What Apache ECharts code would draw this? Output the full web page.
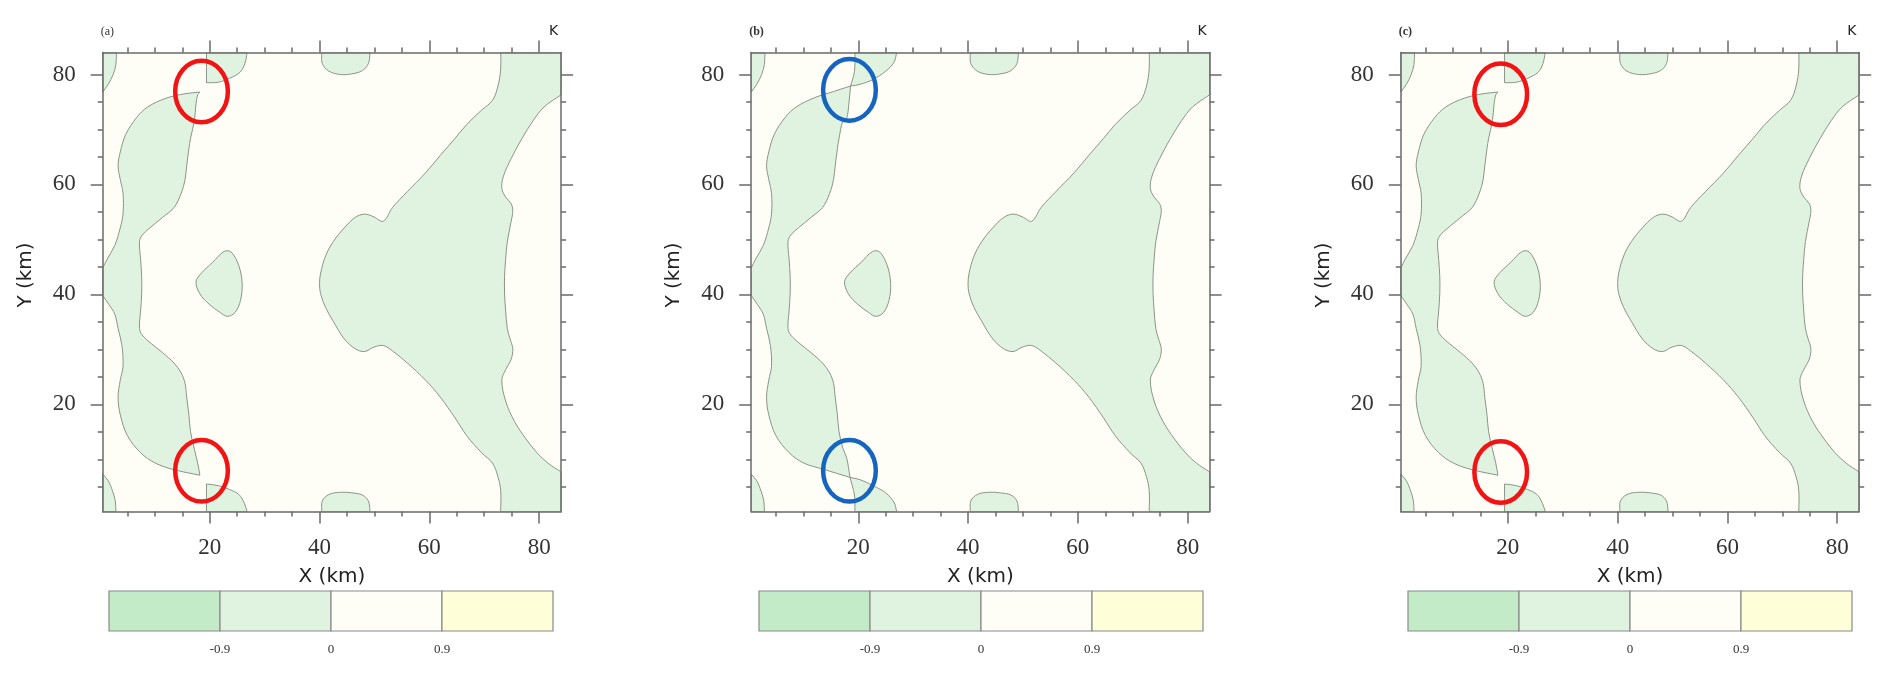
<!DOCTYPE html>
<html>
<head>
<meta charset="utf-8">
<title>K contours</title>
<script src="https://cdn.jsdelivr.net/npm/echarts@6/dist/echarts.min.js"></script>
<style>
  html, body { margin: 0; padding: 0; background: #fff; }
  #main { width: 1892px; height: 679px; }
</style>
</head>
<body>
<div id="main"></div>
<script>
// panel letters and unit
const panelNames = ['(a)', '(b)', '(c)']
const unitLabel = 'K'

// axes (km)
const axisRange = [0.5, 84]
const majorTicks = [20, 40, 60, 80]
const minorTicks = [5, 10, 15, 20, 25, 30, 35, 40, 45, 50, 55, 60, 65, 70, 75, 80]

// colour bar
const levels = [-0.9, 0, 0.9]
const barBins = [[-1.8, -0.9], [-0.9, 0], [0, 0.9], [0.9, 1.8]]

// 0 K contour, closed round the -0.9..0 areas, [x km, y km]
const cornerTopLeft = [[0.5, 84], [3.0, 84], [2.9, 81.8], [2.4, 80.0], [1.5, 78.2], [0.5, 76.8]]
const cornerBottomLeft = [[0.5, 7.3], [1.5, 6.1], [2.3, 4.2], [2.8, 2.4], [2.9, 0.5], [0.5, 0.5]]

const leftBandAC = [
  [18.2, 76.8], [15.5, 76.5], [12.1, 75.7], [8.7, 74.1], [6.7, 72.2], [4.7, 69.1], [3.7, 65.9],
  [3.3, 63.4], [3.7, 60.9], [4.2, 58.4], [4.2, 54.6], [3.7, 52.1], [2.7, 48.9], [1.3, 46.4],
  [0.5, 44.8], [0.5, 39.8], [1.6, 38.2], [2.7, 36.4], [3.3, 33.8], [4.0, 30.7], [4.2, 26.9],
  [3.7, 24.4], [3.3, 21.3], [3.7, 18.1], [5.0, 14.3], [7.4, 11.2], [10.1, 9.3], [13.5, 8.1],
  [18.2, 7.1], [17.8, 9.3], [17.2, 11.8], [16.5, 15.0], [16.2, 18.1], [15.8, 21.3], [15.5, 23.8],
  [14.8, 25.7], [13.5, 27.5], [11.4, 29.4], [9.4, 31.0], [7.7, 32.6], [7.2, 33.8], [7.4, 37.0],
  [7.6, 40.1], [7.6, 43.3], [7.4, 46.4], [7.2, 49.6], [7.7, 50.8], [9.1, 52.1], [11.4, 54.0],
  [13.5, 55.8], [14.8, 58.4], [15.5, 60.9], [15.8, 63.4], [16.2, 66.5], [16.5, 68.4], [17.2, 71.6],
  [17.5, 74.7], [17.8, 76.3]
]
const leftBandB = [
  [18.6, 77.9], [15.5, 76.9], [12.1, 75.8], [8.7, 74.1], [6.7, 72.2], [4.7, 69.1], [3.7, 65.9],
  [3.3, 63.4], [3.7, 60.9], [4.2, 58.4], [4.2, 54.6], [3.7, 52.1], [2.7, 48.9], [1.3, 46.4],
  [0.5, 44.8], [0.5, 39.8], [1.6, 38.2], [2.7, 36.4], [3.3, 33.8], [4.0, 30.7], [4.2, 26.9],
  [3.7, 24.4], [3.3, 21.3], [3.7, 18.1], [5.0, 14.3], [7.4, 11.2], [10.1, 9.3], [13.6, 8.2],
  [18.5, 6.7], [17.9, 10.2], [17.2, 12.0], [16.5, 15.0], [16.2, 18.1], [15.8, 21.3], [15.5, 23.8],
  [14.8, 25.7], [13.5, 27.5], [11.4, 29.4], [9.4, 31.0], [7.7, 32.6], [7.2, 33.8], [7.4, 37.0],
  [7.6, 40.1], [7.6, 43.3], [7.4, 46.4], [7.2, 49.6], [7.7, 50.8], [9.1, 52.1], [11.4, 54.0],
  [13.5, 55.8], [14.8, 58.4], [15.5, 60.9], [15.8, 63.4], [16.2, 66.5], [16.5, 68.4], [17.2, 71.6],
  [17.9, 72.1], [18.3, 74.8]
]

const topBlobAC = [[19.4, 84], [19.4, 78.5], [21.6, 78.6], [23.6, 79.3], [25.5, 80.4], [26.4, 82.0], [26.8, 84]]
const bottomBlobAC = [[19.4, 0.5], [19.4, 5.5], [21.6, 5.2], [23.6, 4.5], [25.3, 3.6], [26.3, 2.0], [26.8, 0.5]]
const topBlobB = [[19.4, 84], [19.3, 80.5], [18.6, 77.9], [20.3, 78.2], [22.7, 79.1], [25.0, 80.6], [26.5, 82.2], [27.0, 84]]
const bottomBlobB = [[19.4, 0.5], [19.3, 3.5], [18.5, 6.7], [20.3, 6.3], [22.7, 5.2], [25.0, 3.9], [26.5, 2.2], [27.0, 0.5]]

const topMid = [[40.4, 84], [40.5, 82.0], [41.7, 80.6], [43.8, 80.0], [45.8, 80.1], [47.8, 80.7], [48.9, 82.0], [49.2, 84]]
const bottomMid = [[40.4, 0.5], [40.5, 2.4], [41.7, 3.6], [43.8, 4.0], [45.8, 3.9], [47.8, 3.5], [48.9, 2.4], [49.2, 0.5]]

const centreBlob = [
  [17.5, 42.3], [18.5, 43.9], [20.5, 45.8], [22.6, 47.8], [23.9, 47.7], [25.3, 45.2], [25.9, 42.0],
  [25.6, 38.9], [24.6, 36.7], [23.2, 36.0], [21.9, 36.7], [19.9, 38.2], [18.2, 40.1]
]

const rightRegion = [
  [73.0, 84], [73.0, 81.0], [72.5, 77.9], [71.5, 75.3], [69.5, 73.5], [66.8, 70.9], [64.7, 68.4],
  [62.0, 65.3], [59.3, 62.1], [56.0, 58.7], [53.3, 55.8], [51.6, 53.3], [49.9, 54.1], [48.2, 54.6],
  [46.5, 54.0], [44.5, 52.1], [42.5, 49.6], [41.1, 47.0], [40.2, 43.9], [40.0, 42.0], [40.2, 40.1],
  [41.1, 37.6], [42.5, 35.1], [44.5, 31.9], [46.5, 30.1], [48.2, 29.6], [49.9, 30.4], [51.6, 30.7],
  [53.3, 29.7], [56.0, 27.5], [59.3, 24.4], [62.0, 21.3], [64.7, 17.5], [66.8, 14.3], [69.5, 11.2],
  [71.5, 9.3], [72.5, 6.8], [73.0, 4.3], [73.0, 0.5], [84, 0.5], [84, 7.7], [81.6, 9.3],
  [79.6, 11.2], [77.6, 13.7], [75.5, 16.9], [73.9, 20.6], [73.2, 24.4], [73.9, 26.3], [74.9, 28.2],
  [75.2, 30.1], [74.7, 31.9], [74.2, 33.8], [73.9, 37.0], [73.7, 40.1], [73.7, 43.3], [73.9, 46.4],
  [74.2, 49.6], [74.9, 53.3], [75.2, 55.2], [74.9, 56.5], [73.9, 57.7], [73.2, 59.3], [73.5, 61.5],
  [74.9, 64.7], [76.9, 68.4], [78.9, 71.6], [80.9, 74.1], [84, 76.3], [84, 84]
]

// pointed tips, corners and saddle crossings of the contour
const sharpVertices = [[18.2, 76.8], [18.2, 7.1], [19.4, 78.5], [19.4, 5.5], [18.6, 77.9], [18.5, 6.7]]

const panelShapes = [
  [cornerTopLeft, cornerBottomLeft, leftBandAC, topBlobAC, bottomBlobAC, topMid, bottomMid, centreBlob, rightRegion],
  [cornerTopLeft, cornerBottomLeft, leftBandB, topBlobB, bottomBlobB, topMid, bottomMid, centreBlob, rightRegion],
  [cornerTopLeft, cornerBottomLeft, leftBandAC, topBlobAC, bottomBlobAC, topMid, bottomMid, centreBlob, rightRegion]
]

// highlighted spots (ellipse centres, km) and their half axes (km)
const highlightCentres = [
  [[18.5, 76.9], [18.5, 7.9]],
  [[18.4, 77.2], [18.4, 7.9]],
  [[18.7, 76.4], [18.7, 7.7]]
]
const highlightRadius = [4.8, 5.6]

// look
const barColors = ['#c4ebc7', '#e0f3e0', '#fefef6', '#fefed9']
const ringColors = ['#f21414', '#1565c0', '#f21414']
const axisColor = '#6a6a6a'
const serif = 'Liberation Serif'
const sans = 'DejaVu Sans'
const plotLefts = [102.7, 751.2, 1400.8]
const plotTop = 52.5
const plotW = 458.4
const plotH = 459
const barLefts = [109, 759, 1408]
const barTop = 591

const grids = []
const xAxes = []
const yAxes = []
const series = []
const titles = []

function tickStyle () {
  return { color: axisColor, width: 1.5 }
}

function isSharp (pt) {
  if (pt[0] <= axisRange[0] || pt[0] >= axisRange[1] || pt[1] <= axisRange[0] || pt[1] >= axisRange[1]) return true
  return sharpVertices.some(s => s[0] === pt[0] && s[1] === pt[1])
}

panelShapes.forEach((shapes, p) => {
  grids.push({
    left: plotLefts[p], top: plotTop, width: plotW, height: plotH,
    show: true, backgroundColor: barColors[2], borderWidth: 0
  })
  const base = { type: 'value', gridIndex: p, min: axisRange[0], max: axisRange[1], z: 5, splitLine: { show: false } }
  const line = { onZero: false, lineStyle: tickStyle() }
  const noLine = { show: false, onZero: false }
  xAxes.push(
    {
      ...base, position: 'bottom', axisLine: line,
      name: 'X (km)', nameLocation: 'middle', nameGap: 55,
      nameTextStyle: { fontFamily: sans, fontSize: 20, color: '#222' },
      axisTick: { customValues: majorTicks, length: 12, lineStyle: tickStyle() },
      axisLabel: { customValues: majorTicks, margin: 25, fontFamily: serif, fontSize: 23, color: '#333' }
    },
    { ...base, position: 'bottom', axisLine: noLine, axisTick: { customValues: minorTicks, length: 5, lineStyle: tickStyle() }, axisLabel: { show: false } },
    { ...base, position: 'top', axisLine: line, axisTick: { customValues: majorTicks, length: 12, lineStyle: tickStyle() }, axisLabel: { show: false } },
    { ...base, position: 'top', axisLine: noLine, axisTick: { customValues: minorTicks, length: 5, lineStyle: tickStyle() }, axisLabel: { show: false } }
  )
  yAxes.push(
    {
      ...base, position: 'left', axisLine: line,
      name: 'Y (km)', nameLocation: 'middle', nameGap: 67,
      nameTextStyle: { fontFamily: sans, fontSize: 20, color: '#222', padding: [0, 0, 0, 14] },
      axisTick: { customValues: majorTicks, length: 12, lineStyle: tickStyle() },
      axisLabel: { customValues: majorTicks, margin: 27, fontFamily: serif, fontSize: 23, color: '#333' }
    },
    { ...base, position: 'left', axisLine: noLine, axisTick: { customValues: minorTicks, length: 5, lineStyle: tickStyle() }, axisLabel: { show: false } },
    { ...base, position: 'right', axisLine: line, axisTick: { customValues: majorTicks, length: 12, lineStyle: tickStyle() }, axisLabel: { show: false } },
    { ...base, position: 'right', axisLine: noLine, axisTick: { customValues: minorTicks, length: 5, lineStyle: tickStyle() }, axisLabel: { show: false } }
  )
  series.push({
    type: 'custom',
    coordinateSystem: 'cartesian2d',
    xAxisIndex: 4 * p,
    yAxisIndex: 4 * p,
    silent: true,
    clip: true,
    data: shapes.map((s, i) => [s[0][0], s[0][1], i]),
    renderItem (params, api) {
      const pts = []
      shapes[params.dataIndex].forEach(pt => {
        const c = api.coord(pt)
        pts.push(c)
        // a doubled vertex keeps the smoothed outline pointed there
        if (isSharp(pt)) pts.push(c.slice())
      })
      return {
        type: 'polygon',
        shape: { points: pts, smooth: 0.35 },
        style: { fill: barColors[1], stroke: '#8a948a', lineWidth: 1 }
      }
    }
  })
  // red / blue rings round the spots where the runs differ
  series.push({
    type: 'custom',
    coordinateSystem: 'cartesian2d',
    xAxisIndex: 4 * p,
    yAxisIndex: 4 * p,
    silent: true,
    z: 4,
    data: highlightCentres[p],
    renderItem (params, api) {
      const c = api.coord([api.value(0), api.value(1)])
      const r = api.size([highlightRadius[0], highlightRadius[1]])
      return {
        type: 'ellipse',
        shape: { cx: c[0], cy: c[1], rx: r[0], ry: r[1] },
        style: { fill: 'none', stroke: ringColors[p], lineWidth: 4.5 }
      }
    }
  })
  titles.push(
    {
      text: panelNames[p], left: plotLefts[p] - 2, top: 26, padding: 0,
      textStyle: { fontFamily: serif, fontSize: 12, fontWeight: p ? 'bold' : 'normal', color: '#333' }
    },
    {
      text: unitLabel, left: plotLefts[p] + plotW - 12, top: 24, padding: 0,
      textStyle: { fontFamily: sans, fontSize: 14, fontWeight: 'normal', color: '#222' }
    }
  )
})

// colour bars
panelShapes.forEach((shapes, p) => {
  const g = 3 + p
  grids.push({ left: barLefts[p], top: barTop, width: 444, height: 40 })
  xAxes.push({
    type: 'value', gridIndex: g, min: -1.8, max: 1.8, interval: 0.9,
    axisLine: { show: false }, axisTick: { show: false }, splitLine: { show: false },
    axisLabel: {
      showMinLabel: false, showMaxLabel: false, margin: 12,
      fontFamily: serif, fontSize: 13, color: '#333',
      formatter: v => (levels.indexOf(Math.round(v * 10) / 10) >= 0 ? String(Math.round(v * 10) / 10) : '')
    }
  })
  yAxes.push({ type: 'value', gridIndex: g, min: 0, max: 1, show: false })
  series.push({
    type: 'custom',
    coordinateSystem: 'cartesian2d',
    xAxisIndex: 12 + p,
    yAxisIndex: 12 + p,
    silent: true,
    data: barBins.map((b, i) => [b[0], 0.5, i]),
    renderItem (params, api) {
      const bin = barBins[params.dataIndex]
      const a = api.coord([bin[0], 1])
      const b = api.coord([bin[1], 0])
      return {
        type: 'rect',
        shape: { x: a[0], y: a[1], width: b[0] - a[0], height: b[1] - a[1] },
        style: { fill: barColors[params.dataIndex], stroke: '#8a8a8a', lineWidth: 1.2 }
      }
    }
  })
})

const chart = echarts.init(document.getElementById('main'))
chart.setOption({
  animation: false,
  backgroundColor: '#fff',
  title: titles,
  grid: grids,
  xAxis: xAxes,
  yAxis: yAxes,
  series: series
})
</script>
</body>
</html>
